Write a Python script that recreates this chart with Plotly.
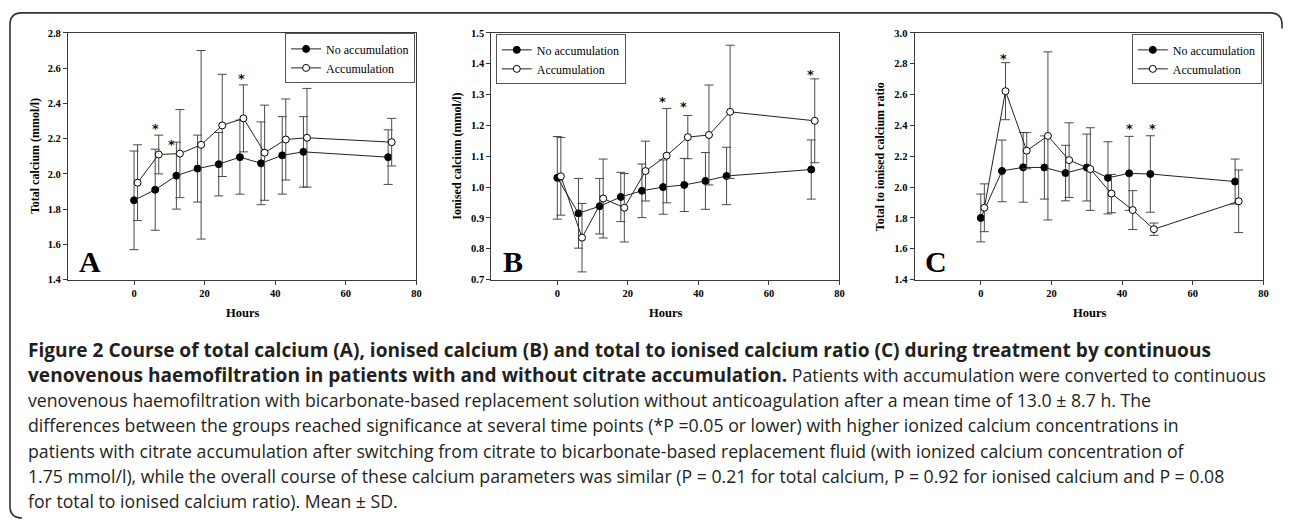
import plotly.graph_objects as go

W, H = 1290, 524

# ---------------- data ----------------
hours_no = [0, 6, 12, 18, 24, 30, 36, 42, 48, 72]
hours_acc = [1, 7, 13, 19, 25, 31, 37, 43, 49, 73]

# Panel A: total calcium (mmol/l)
tc_no = [1.85, 1.91, 1.99, 2.03, 2.055, 2.095, 2.06, 2.105, 2.125, 2.095]
tc_no_sd = [0.28, 0.23, 0.19, 0.19, 0.18, 0.21, 0.235, 0.22, 0.20, 0.155]
tc_acc = [1.95, 2.11, 2.115, 2.165, 2.275, 2.315, 2.12, 2.195, 2.205, 2.18]
tc_acc_sd = [0.215, 0.11, 0.25, 0.535, 0.29, 0.19, 0.27, 0.23, 0.28, 0.135]

# Panel B: ionised calcium (mmol/l)
ic_no = [1.03, 0.915, 0.938, 0.968, 0.988, 1.0, 1.007, 1.02, 1.036, 1.057]
ic_no_sd = [0.134, 0.113, 0.09, 0.08, 0.087, 0.088, 0.086, 0.092, 0.093, 0.096]
ic_acc = [1.035, 0.836, 0.963, 0.933, 1.052, 1.102, 1.162, 1.169, 1.244, 1.215]
ic_acc_sd = [0.126, 0.111, 0.128, 0.111, 0.097, 0.153, 0.07, 0.162, 0.216, 0.136]

# Panel C: total to ionised calcium ratio
ratio_no = [1.80, 2.105, 2.128, 2.127, 2.091, 2.127, 2.06, 2.089, 2.085, 2.036]
ratio_no_sd = [0.155, 0.2, 0.226, 0.205, 0.18, 0.217, 0.234, 0.24, 0.248, 0.146]
ratio_acc = [1.866, 2.622, 2.236, 2.332, 2.175, 2.117, 1.958, 1.851, 1.727, 1.908]
ratio_acc_sd = [0.155, 0.185, 0.117, 0.545, 0.242, 0.268, 0.124, 0.126, 0.04, 0.203]

# significance markers
ast_a_x, ast_a_y = [6, 10.5, 30.5], [2.27, 2.18, 2.55]
ast_b_x, ast_b_y = [29.7, 35.9, 71.8], [1.285, 1.269, 1.373]
ast_c_x, ast_c_y = [6.4, 42.2, 48.5], [2.85, 2.39, 2.39]

series_names = ["No accumulation", "Accumulation"]
panel_letters = ["A", "B", "C"]
y_titles = ["Total calcium (mmol/l)", "Ionised calcium (mmol/l)", "Total to ionised calcium ratio"]
x_title = "Hours"
y_ranges = [[1.4, 2.8], [0.7, 1.5], [1.4, 3.0]]
y_dticks = [0.2, 0.1, 0.2]
x_range = [-18.7, 80]
x_ticks = [0, 20, 40, 60, 80]

B1 = "<span style='font-size:19.1px'><b>"
B2 = "</b></span>"
caption_lines = [
    B1 + "Figure 2 Course of total calcium (A), ionised calcium (B) and total to ionised calcium ratio (C) during treatment by continuous" + B2,
    B1 + "venovenous haemofiltration in patients with and without citrate accumulation." + B2 + " Patients with accumulation were converted to continuous",
    "venovenous haemofiltration with bicarbonate-based replacement solution without anticoagulation after a mean time of 13.0 ± 8.7 h. The",
    "differences between the groups reached significance at several time points (*P =0.05 or lower) with higher ionized calcium concentrations in",
    "patients with citrate accumulation after switching from citrate to bicarbonate-based replacement fluid (with ionized calcium concentration of",
    "1.75 mmol/l), while the overall course of these calcium parameters was similar (P = 0.21 for total calcium, P = 0.92 for ionised calcium and P = 0.08",
    "for total to ionised calcium ratio). Mean ± SD.",
]

# ---------------- layout helpers ----------------
def px(x):
    return x / W

def py(y):
    return 1 - y / H

SERIF = "Liberation Serif"
AXC = "#3a3a3a"
INK = "#231f20"

# plot area pixel boxes (left, right, top, bottom)
boxes = [(68.3, 418.0, 28.5, 280.5), (493.3, 842.7, 28.5, 280.5), (918.3, 1268.3, 28.5, 280.5)]

panels = [
    (tc_no, tc_no_sd, tc_acc, tc_acc_sd, ast_a_x, ast_a_y),
    (ic_no, ic_no_sd, ic_acc, ic_acc_sd, ast_b_x, ast_b_y),
    (ratio_no, ratio_no_sd, ratio_acc, ratio_acc_sd, ast_c_x, ast_c_y),
]
legend_keys = ["legend", "legend2", "legend3"]

fig = go.Figure()
annotations = []

for i, (yn, yn_sd, ya, ya_sd, axs, ays) in enumerate(panels):
    xa = "x" if i == 0 else f"x{i+1}"
    ya_ref = "y" if i == 0 else f"y{i+1}"
    fig.add_trace(go.Scatter(
        x=hours_no, y=yn, mode="lines+markers", name=series_names[0],
        xaxis=xa, yaxis=ya_ref, legend=legend_keys[i],
        line=dict(color="#222222", width=1),
        marker=dict(symbol="circle", size=7, color="black", line=dict(color="black", width=1)),
        error_y=dict(type="data", array=yn_sd, visible=True, color="#4a4a4a", thickness=1, width=4.5),
    ))
    fig.add_trace(go.Scatter(
        x=hours_acc, y=ya, mode="lines+markers", name=series_names[1],
        xaxis=xa, yaxis=ya_ref, legend=legend_keys[i],
        line=dict(color="#222222", width=1),
        marker=dict(symbol="circle", size=7, color="white", line=dict(color="black", width=1)),
        error_y=dict(type="data", array=ya_sd, visible=True, color="#4a4a4a", thickness=1, width=4.5),
    ))
    for ax_, ay_ in zip(axs, ays):
        annotations.append(dict(x=ax_, y=ay_, xref=xa, yref=ya_ref, text="<b>*</b>", showarrow=False,
                                font=dict(family="DejaVu Sans", size=13, color="#111111"),
                                xanchor="center", yanchor="middle", yshift=-2))
    l, r, t, b = boxes[i]
    fig.layout[f"xaxis{'' if i == 0 else i+1}"] = dict(
        domain=[px(l), px(r)], anchor=ya_ref, range=x_range, tickvals=x_ticks,
        showline=True, mirror=True, linecolor=AXC, linewidth=1.3,
        ticks="outside", ticklen=4, tickcolor=AXC, showgrid=False, zeroline=False,
        tickfont=dict(family=SERIF, size=10.5, color="black", weight="bold"),
    )
    fig.layout[f"yaxis{'' if i == 0 else i+1}"] = dict(
        domain=[py(b), py(t)], anchor=xa, range=y_ranges[i], dtick=y_dticks[i], tickformat=".1f",
        showline=True, mirror=True, linecolor=AXC, linewidth=1.3,
        ticks="outside", ticklen=4, tickcolor=AXC, showgrid=False, zeroline=False,
        tickfont=dict(family=SERIF, size=10.5, color="black", weight="bold"),
    )
    # panel letter
    annotations.append(dict(x=-12.6, y=y_ranges[i][0] + (y_ranges[i][1] - y_ranges[i][0]) * 0.075,
                            xref=xa, yref=ya_ref, text=f"<b>{panel_letters[i]}</b>", showarrow=False,
                            font=dict(family=SERIF, size=30, color="black"),
                            xanchor="center", yanchor="middle"))
    # axis titles
    annotations.append(dict(x=px((l + r) / 2), y=py(315), xref="paper", yref="paper",
                            text=f"<b>{x_title}</b>", showarrow=False,
                            font=dict(family=SERIF, size=12.5, color="black"),
                            xanchor="center", yanchor="middle"))
    ytx = [35, 459.3, 883.3][i]
    annotations.append(dict(x=px(ytx), y=py((t + b) / 2), xref="paper", yref="paper",
                            text=f"<b>{y_titles[i]}</b>", showarrow=False, textangle=-90,
                            font=dict(family=SERIF, size=12, color="black"),
                            xanchor="center", yanchor="middle"))

leg_common = dict(bgcolor="white", bordercolor="#555555", borderwidth=1,
                  font=dict(family=SERIF, size=12, color="black"),
                  itemwidth=30, tracegroupgap=0, yanchor="top")
fig.update_layout(
    legend=dict(x=px(416.7), xanchor="right", y=py(29), **leg_common),
    legend2=dict(x=px(497.7), xanchor="left", y=py(30), **leg_common),
    legend3=dict(x=px(1266.7), xanchor="right", y=py(30), **leg_common),
)

# caption
for k, line in enumerate(caption_lines):
    annotations.append(dict(x=px(26), y=py(352 + 25.8 * k), xref="paper", yref="paper",
                            text=line, showarrow=False, align="left",
                            font=dict(family="Open Sans", size=17.7, color=INK),
                            xanchor="left", yanchor="middle"))

# rounded frame
r0 = 12
path = (f"M {px(10+r0)},{py(524)} Q {px(10)},{py(524)} {px(10)},{py(524-r0)} "
        f"L {px(10)},{py(8+r0)} Q {px(10)},{py(8)} {px(10+r0)},{py(8)} "
        f"L {px(1287-r0)},{py(8)} Q {px(1287)},{py(8)} {px(1287)},{py(8+r0)} L {px(1287)},{py(24)}")
fig.add_shape(type="path", path=path, xref="paper", yref="paper",
              line=dict(color="#333333", width=1.6))

fig.update_layout(
    width=W, height=H, margin=dict(l=0, r=0, t=0, b=0),
    paper_bgcolor="white", plot_bgcolor="white",
    annotations=annotations, showlegend=True,
)

fig.write_html("out.html", config={"displayModeBar": False},
               post_script="document.body.style.margin='0';")
